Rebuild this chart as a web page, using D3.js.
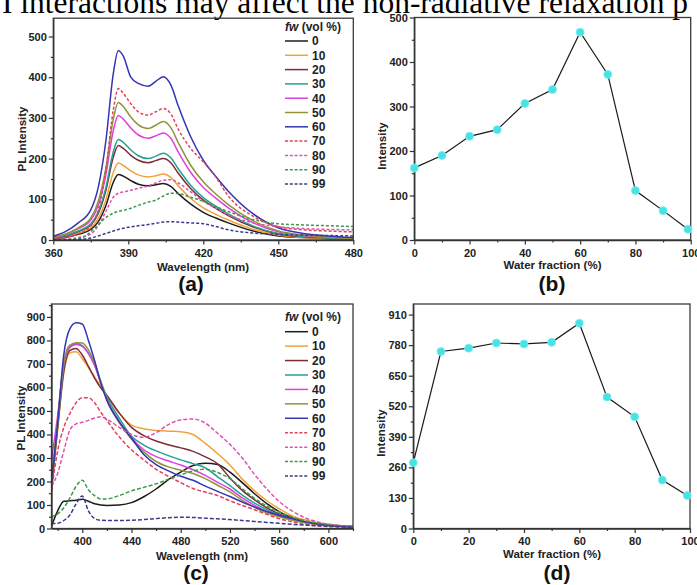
<!DOCTYPE html>
<html><head><meta charset="utf-8">
<script src="https://cdn.jsdelivr.net/npm/d3@7"></script>
<style>body{margin:0;background:#fff}svg{display:block}</style>
</head><body><svg width="697" height="585"></svg>
<script>
// ---------------- data ----------------
const headerText = "I interactions may affect the non-radiative relaxation p";
const seriesNames = ["0","10","20","30","40","50","60","70","80","90","99"];
const seriesColors = ["#1c1c1c","#f0a23c","#7f2b38","#24a090","#e03fe0","#8f9438","#3434b4","#e2425a","#e050b2","#3a9a4a","#3a3a8c"];
const seriesDashed = [false,false,false,false,false,false,false,true,true,true,true];

// panel (a): PL spectra, wavelength grid (nm)
const wlA = [360,365,370,375,378,381,384,386,388,391,394,398,401,404,407,410,415,420,425,430,440,450,460,470,480];
const specA0  = [3,7,14,26,45,84,142,161,157,146,137,133,136,139,132,114,88,68,54,42,22,10,6,3,2];
const specA10 = [4,9,17,30,53,98,166,189,183,170,160,155,158,162,154,133,102,79,63,49,26,12,6,4,2];
const specA20 = [5,10,21,37,65,121,204,232,225,208,196,190,195,200,190,164,126,98,78,60,32,15,8,5,3];
const specA30 = [5,11,22,40,69,128,217,247,240,221,207,200,206,213,202,175,134,104,83,64,34,16,9,5,3];
const specA40 = [6,14,28,49,86,159,269,306,297,275,258,250,256,263,250,216,166,129,103,79,42,20,11,7,4];
const specA50 = [7,15,30,54,95,176,297,338,328,302,283,274,282,291,276,239,183,143,113,87,47,22,12,7,4];
const specA60 = [9,21,42,74,130,242,409,465,452,400,385,378,390,401,381,329,253,196,156,120,64,30,16,10,6];
const specA70 = [2,6,15,35,75,170,320,372,360,335,315,307,315,323,310,272,225,192,155,108,58,33,25,22,20];
const specA80 = [0,2,6,15,35,70,105,115,118,122,127,133,140,147,148,140,118,95,78,62,42,33,28,26,25];
const specA90 = [0,1,3,20,38,55,66,70,73,78,85,93,98,108,115,114,105,95,82,70,50,40,37,35,33];
const specA99 = [0,0,1,5,10,16,22,26,29,32,35,38,41,44,45,44,42,40,33,25,17,14,12,11,10];

// panel (c): PL spectra
const wlC = [375,380,385,390,395,400,405,410,415,420,430,440,450,460,470,480,490,500,510,520,530,540,550,560,570,580,590,600,610,620];
const specC0  = [10,75,116,118,120,124,116,105,100,98,100,110,135,168,208,240,268,278,272,240,195,148,106,72,46,30,20,14,10,7];
const specC10 = [160,420,660,748,752,722,685,645,605,565,490,440,424,417,414,412,400,362,318,270,210,160,118,84,55,38,26,18,13,10];
const specC20 = [170,430,670,758,766,738,690,640,598,566,492,430,395,372,356,343,328,305,275,215,162,122,88,62,42,28,20,14,10,8];
const specC30 = [190,440,690,775,787,778,745,695,625,560,470,392,355,330,310,292,276,258,220,182,142,108,80,58,42,28,20,14,10,8];
const specC40 = [290,480,700,770,783,775,745,695,620,550,455,385,335,306,287,270,250,226,196,168,130,98,72,54,38,26,18,12,9,7];
const specC50 = [200,460,710,780,790,789,760,705,625,548,450,380,326,285,262,248,234,212,184,156,120,90,66,50,36,25,17,12,9,7];
const specC60 = [190,450,740,850,875,870,800,715,620,545,455,385,315,272,245,222,205,180,158,136,112,92,72,56,43,30,20,14,10,7];
const specC70 = [160,330,430,490,535,556,556,535,495,460,390,335,292,252,222,195,170,155,140,118,98,80,60,42,29,18,12,8,6,4];
const specC80 = [180,235,330,420,445,452,460,470,475,465,430,400,388,408,442,462,466,448,405,358,300,230,168,115,76,48,30,18,12,8];
const specC90 = [50,62,88,130,180,205,165,140,126,126,140,160,175,190,210,228,245,252,238,212,170,128,95,70,50,34,24,16,11,8];
const specC99 = [20,22,34,58,105,138,75,42,35,34,34,35,38,42,46,48,47,44,41,38,34,30,26,22,18,15,12,10,8,6];

// panels (b) and (d): intensity vs water fraction
const waterFraction = [0,10,20,30,40,50,60,70,80,90,99];
const intensityB = [162,190,233,248,307,338,467,372,111,66,24];
const intensityD = [280,753,767,789,785,792,873,559,475,206,140];

// tick values
const ticksAx = [360,390,420,450,480], minorAx = [375,405,435,465];
const ticksAy = [0,100,200,300,400,500], minorAy = [50,150,250,350,450];
const ticksCx = [400,440,480,520,560,600], minorCx = [380,420,460,500,540,580,620];
const ticksCy = [0,100,200,300,400,500,600,700,800,900], minorCy = [50,150,250,350,450,550,650,750,850,950];
const ticksFx = [0,20,40,60,80,100], minorFx = [10,30,50,70,90];
const ticksBy = [0,100,200,300,400,500], minorBy = [50,150,250,350,450];
const ticksDy = [0,130,260,390,520,650,780,910], minorDy = [65,195,325,455,585,715,845];

const specA = [specA0,specA10,specA20,specA30,specA40,specA50,specA60,specA70,specA80,specA90,specA99];
const specC = [specC0,specC10,specC20,specC30,specC40,specC50,specC60,specC70,specC80,specC90,specC99];

// ---------------- drawing ----------------
const svg = d3.select("svg");
const SANS = "Arial, 'Liberation Sans', sans-serif";
svg.append("rect").attr("width",697).attr("height",585).attr("fill","#fff");

svg.append("text").attr("x",2).attr("y",12.5)
  .attr("font-family","'Liberation Serif','Times New Roman',serif")
  .attr("font-size",31.5).attr("fill","#000").text(headerText);

function styleAxis(g){
  g.attr("font-family",SANS).attr("font-size",11).attr("font-weight","bold");
  g.selectAll("text").attr("fill","#222");
  g.selectAll("line").attr("stroke","#333").attr("stroke-width",1.2);
  g.select(".domain").attr("stroke","#333").attr("stroke-width",1.3);
}

function makeAxes(g, x, y, xt, xm, yt, ym){
  const y0 = y.range()[0], x0 = x.range()[0];
  const [xa, xb] = x.range(), [ya, yb] = y.range();
  g.append("rect").attr("x",xa).attr("y",yb).attr("width",xb-xa).attr("height",ya-yb)
    .attr("fill","none").attr("stroke","#3a3a3a").attr("stroke-width",1.3);
  g.append("g").attr("transform",`translate(0,${y0})`)
    .call(d3.axisBottom(x).tickValues(xm).tickSize(2.5).tickSizeOuter(0).tickFormat(""))
    .call(styleAxis).call(s=>s.select(".domain").remove());
  g.append("g").attr("transform",`translate(${x0},0)`)
    .call(d3.axisLeft(y).tickValues(ym).tickSize(2.5).tickSizeOuter(0).tickFormat(""))
    .call(styleAxis).call(s=>s.select(".domain").remove());
  g.append("g").attr("transform",`translate(0,${y0})`)
    .call(d3.axisBottom(x).tickValues(xt).tickSize(4.5).tickSizeOuter(0).tickPadding(4.5).tickFormat(d3.format("d")))
    .call(styleAxis);
  g.append("g").attr("transform",`translate(${x0},0)`)
    .call(d3.axisLeft(y).tickValues(yt).tickSize(4.5).tickSizeOuter(0).tickPadding(2).tickFormat(d3.format("d")))
    .call(styleAxis);
}

function axisTitles(g, xLabel, xcx, xby, yLabel, ybx, ycy, tag, tcx, tby){
  g.append("text").attr("x",xcx).attr("y",xby).attr("text-anchor","middle")
    .attr("font-family",SANS).attr("font-size",11.5).attr("font-weight","bold").attr("fill","#222").text(xLabel);
  g.append("text").attr("transform",`translate(${ybx},${ycy}) rotate(-90)`).attr("text-anchor","middle")
    .attr("font-family",SANS).attr("font-size",11.5).attr("font-weight","bold").attr("fill","#222").text(yLabel);
  g.append("text").attr("x",tcx).attr("y",tby).attr("text-anchor","middle")
    .attr("font-family",SANS).attr("font-size",21).attr("font-weight","bold").attr("fill","#111").text(tag);
}

function spectraPanel(id, x, y, wl, spec, xt, xm, yt, ym, dash, legX, legTitleY, legRow0, legStep){
  const g = svg.append("g");
  const clipId = "clip"+id;
  const [xa,xb] = x.range(), [ya,yb] = y.range();
  svg.append("clipPath").attr("id",clipId).append("rect").attr("x",xa).attr("y",yb).attr("width",xb-xa).attr("height",ya-yb);
  const lg = g.append("g").attr("clip-path",`url(#${clipId})`);
  const line = d3.line().x(d=>x(d[0])).y(d=>y(d[1])).curve(d3.curveMonotoneX);
  spec.forEach((vals,i)=>{
    lg.append("path").datum(wl.map((w,k)=>[w,vals[k]]))
      .attr("d",line).attr("fill","none").attr("stroke",seriesColors[i])
      .attr("stroke-width",1.5).attr("stroke-dasharray",seriesDashed[i]?dash:null);
  });
  makeAxes(g, x, y, xt, xm, yt, ym);
  const t = g.append("text").attr("x",legX).attr("y",legTitleY).attr("font-family",SANS)
    .attr("font-size",12).attr("font-weight","bold").attr("fill","#222");
  t.append("tspan").attr("font-style","italic").text("fw");
  t.append("tspan").text(" (vol %)");
  seriesNames.forEach((n,i)=>{
    const cy = legRow0 + i*legStep;
    g.append("line").attr("x1",legX).attr("x2",legX+23).attr("y1",cy).attr("y2",cy)
      .attr("stroke",seriesColors[i]).attr("stroke-width",1.5).attr("stroke-dasharray",seriesDashed[i]?"3,1.8":null);
    g.append("text").attr("x",legX+27).attr("y",cy+4.3).attr("font-family",SANS)
      .attr("font-size",12).attr("font-weight","bold").attr("fill","#222").text(n);
  });
  return g;
}

function fractionPanel(x, y, vals, xt, xm, yt, ym){
  const g = svg.append("g");
  makeAxes(g, x, y, xt, xm, yt, ym);
  const pts = waterFraction.map((w,i)=>[w,vals[i]]);
  g.append("path").datum(pts).attr("d",d3.line().x(d=>x(d[0])).y(d=>y(d[1])))
    .attr("fill","none").attr("stroke","#1a1a1a").attr("stroke-width",1.2);
  g.selectAll("circle.pt").data(pts).enter().append("circle")
    .attr("cx",d=>x(d[0])).attr("cy",d=>y(d[1])).attr("r",4)
    .attr("fill","#45e2e6").attr("stroke","#7eeef0").attr("stroke-width",0.8);
  return g;
}

// (a)
const xA = d3.scaleLinear().domain([360,480]).range([53.3,353.3]);
const yA = d3.scaleLinear().domain([0,545]).range([240,18.2]);
const gA = spectraPanel("A", xA, yA, wlA, specA, ticksAx, minorAx, ticksAy, minorAy, "3,2", 285, 31, 41, 14.3);
axisTitles(gA, "Wavelength (nm)", 203, 270.5, "PL Intensity", 26, 139, "(a)", 191, 291);

// (b)
const xB = d3.scaleLinear().domain([0,100]).range([414.3,690.7]);
const yB = d3.scaleLinear().domain([0,500]).range([240,17.5]);
const gB = fractionPanel(xB, yB, intensityB, ticksFx, minorFx, ticksBy, minorBy);
axisTitles(gB, "Water fraction (%)", 552.5, 269, "Intensity", 386, 146, "(b)", 552, 291);

// (c)
const xC = d3.scaleLinear().domain([375,620]).range([51.5,353]);
const yC = d3.scaleLinear().domain([0,955]).range([528.5,304]);
const gC = spectraPanel("C", xC, yC, wlC, specC, ticksCx, minorCx, ticksCy, minorCy, "4,2", 285, 321, 331.7, 14.43);
axisTitles(gC, "Wavelength (nm)", 202, 559.5, "PL Intensity", 25, 418, "(c)", 196, 580);

// (d)
const xD = d3.scaleLinear().domain([0,100]).range([413.3,690]);
const yD = d3.scaleLinear().domain([0,955]).range([528.5,304]);
const gD = fractionPanel(xD, yD, intensityD, ticksFx, minorFx, ticksDy, minorDy);
axisTitles(gD, "Water fraction (%)", 552, 557.5, "Intensity", 385, 433, "(d)", 557, 580);
</script></body></html>
